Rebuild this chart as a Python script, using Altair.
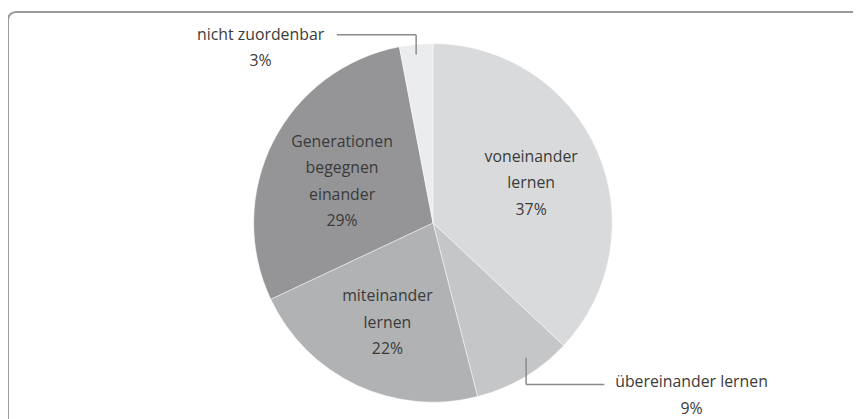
import altair as alt
import pandas as pd

categories = ["voneinander lernen", "übereinander lernen", "miteinander lernen",
              "Generationen begegnen einander", "nicht zuordenbar"]
values = [37, 9, 22, 29, 3]
colors = ["#d9dadc", "#c5c6c8", "#b1b2b4", "#959597", "#ebecee"]
inner_labels = ["voneinander\nlernen\n37%", "", "miteinander\nlernen\n22%",
                "Generationen\nbegegnen\neinander\n29%", ""]
inner_lines = [3, 0, 3, 4, 0]
outer_labels = ["nicht zuordenbar\n3%", "übereinander lernen\n9%"]

df = pd.DataFrame({"cat": categories, "value": values, "label": inner_labels,
                   "nlines": inner_lines, "order": list(range(len(values)))})

CX, CY, R = 429, 215, 181
FONT = "Open Sans"
TXT = "#3a3a3a"
FS = 16
LH = 26.5
theta_scale = alt.Scale(domain=[0, 100])

pie = alt.Chart(df).mark_arc(outerRadius=R, stroke="white", strokeWidth=0.5).encode(
    theta=alt.Theta("value:Q", stack=True, scale=theta_scale),
    order=alt.Order("order:Q"),
    x=alt.value(CX), y=alt.value(CY),
    color=alt.Color("cat:N", scale=alt.Scale(domain=categories, range=colors), legend=None),
)

def inner_layer(n, radius, shift):
    return alt.Chart(df).transform_window(
        cum="sum(value)", sort=[alt.SortField("order")], frame=[None, 0]
    ).transform_calculate(
        mid="datum.cum - datum.value / 2"
    ).transform_filter(
        f"datum.nlines == {n}"
    ).mark_text(
        radius=radius, font=FONT, fontSize=FS, color=TXT, lineBreak="\n",
        lineHeight=LH, align="center", baseline="middle",
        dy=-(n - 1) * LH / 2 + shift
    ).encode(
        theta=alt.Theta("mid:Q", stack=None, scale=theta_scale),
        x=alt.value(CX), y=alt.value(CY),
        text="label:N",
    )

inner3 = inner_layer(3, 108, 3)
inner4 = inner_layer(4, 103, 5)

border = alt.Chart(df.head(1)).mark_rect(
    fill=None, stroke="#9a9a9a", strokeWidth=2, cornerRadius=8
).encode(x=alt.value(0), y=alt.value(2), x2=alt.value(1000), y2=alt.value(600))

def seg(x1, y1, x2, y2):
    return alt.Chart(df.head(1)).mark_rule(color="#8a8a8a", strokeWidth=1.5).encode(
        x=alt.value(x1), y=alt.value(y1), x2=alt.value(x2), y2=alt.value(y2))

leaders = [seg(332, 25, 412, 25), seg(412, 25, 412, 45),
           seg(523, 351, 523, 378), seg(523, 378, 602, 378)]

def outer(txt, x, y):
    return alt.Chart(df.head(1)).mark_text(
        font=FONT, fontSize=FS, color=TXT, lineBreak="\n", lineHeight=LH,
        align="center", baseline="middle", text=txt
    ).encode(x=alt.value(x), y=alt.value(y))

outers = [outer(outer_labels[0], 255, 25), outer(outer_labels[1], 690, 376)]

chart = alt.layer(border, pie, inner3, inner4, *leaders, *outers).properties(
    width=853, height=411, padding=0, autosize=alt.AutoSizeParams(type="none")
).configure_view(stroke=None)

chart.save("out.html", embed_options={"renderer": "svg", "actions": False})
